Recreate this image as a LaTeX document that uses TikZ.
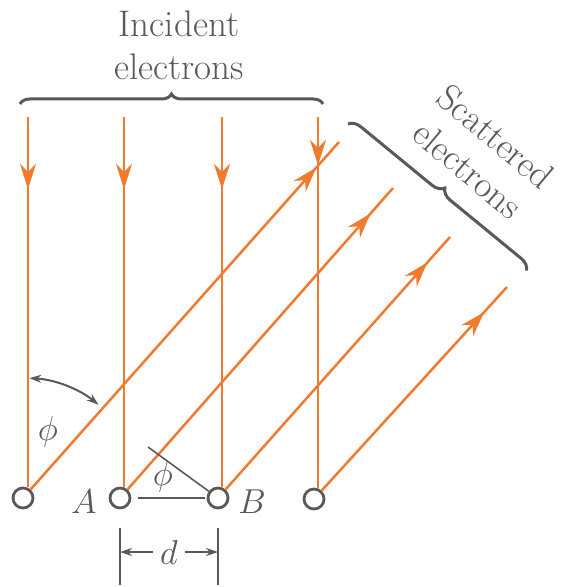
\documentclass[tikz,border=0pt]{standalone}
\usepackage{tikz}
\usetikzlibrary{positioning,arrows.meta,calc,decorations.pathreplacing,decorations.markings}
\definecolor{beamorange}{RGB}{240,122,46}
\definecolor{inkgray}{RGB}{92,88,86}

\begin{document}
\begin{tikzpicture}[x=0.5pt,y=0.5pt,
  atom/.style={circle,draw=inkgray,line width=1.4pt,fill=white,minimum size=10pt,inner sep=0pt},
  beam/.style={beamorange,line width=1.25pt},
  incoming/.style={beam,postaction={decorate},decoration={markings,mark=at position #1 with {\arrow{Stealth[length=12.5pt,width=8pt,inset=4pt]}}}},
  outgoing/.style={beam,postaction={decorate},decoration={markings,mark=at position -17pt with {\arrow{Stealth[length=12.5pt,width=8pt,inset=4pt]}}}},
  bracket/.style={decorate,decoration={brace,amplitude=#1},draw=inkgray,line width=1.5pt},
  caption/.style={text=inkgray,font=\fontsize{18.5}{21.5}\selectfont,align=center},
  letter/.style={text=inkgray,font=\fontsize{18}{18}\selectfont},
  guide/.style={draw=inkgray,line width=0.8pt},
  dimarrow/.style={-{Stealth[length=6pt,width=4pt]},inkgray,line width=0.8pt},
  anglearc/.style={{Stealth[length=6pt,width=4pt]}-{Stealth[length=6pt,width=4pt]},inkgray,line width=1pt},
]
\useasboundingbox (0,0) rectangle (561,-587);

% === Atoms of the crystal surface ===
\node[atom] (a1) at (23,-498) {};
\node[atom] (a2) at (120,-498) {};
\node[atom] (a3) at (218,-498) {};
\node[atom] (a4) at (314,-499) {};

% === Incident beam ===
\coordinate (t1) at (28,-117);
\coordinate (t2) at (124,-117);
\coordinate (t3) at (222,-117);
\coordinate (t4) at (318,-117);
\draw[incoming=36pt] (t1) -- (t1 |- a1.north);
\draw[incoming=36pt] (t2) -- (t2 |- a2.north);
\draw[incoming=36pt] (t3) -- (t3 |- a3.north);
\draw[incoming=24pt] (t4) -- (t4 |- a4.north);

% === Scattered beam ===
\coordinate (s1) at (339,-142);
\coordinate (s2) at (393,-188);
\coordinate (s3) at (450,-237);
\coordinate (s4) at (507,-287);
\draw[outgoing] (a1) -- (s1);
\draw[outgoing] (a2) -- (s2);
\draw[outgoing] (a3) -- (s3);
\draw[outgoing] (a4) -- (s4);

% === Braces and captions ===
\draw[bracket=5pt] (20,-104) -- (323,-104);
\node[caption] (incident) at (179,-45) {Incident\\electrons};
\draw[bracket=6pt] (348,-124) -- (527,-271);
\node[caption,rotate=-40] (scattered) at (482,-153) {Scattered\\electrons};

% === Scattering angle ===
\draw[anglearc] ($(a1.center)+(87:120)$) arc[start angle=87,end angle=51,radius=120];
\node[letter] (phi1) at (48,-432) {$\phi$};

% === Path difference ===
\coordinate (pf) at (148,-447);
\draw[guide] (pf) -- (a3);
\draw[guide,shorten <=3.5pt,shorten >=1pt] (a2) -- (a3);
\node[letter] (phi2) at (163,-477) {$\phi$};
\node[letter,left=2.5pt of a2,yshift=-2pt] (labA) {$A$};
\node[letter,right=1pt of a3,yshift=-2pt] (labB) {$B$};

% === Spacing d ===
\coordinate (dtop) at (0,-528);
\coordinate (dbot) at (0,-585);
\draw[guide,line width=1pt] (a2 |- dtop) -- (a2 |- dbot);
\draw[guide,line width=1pt] (a3 |- dtop) -- (a3 |- dbot);
\node[letter] (dlab) at (169,-552) {$d$};
\draw[dimarrow] (dlab) -- (a2 |- dlab);
\draw[dimarrow] (dlab) -- (a3 |- dlab);

\end{tikzpicture}
\end{document}
